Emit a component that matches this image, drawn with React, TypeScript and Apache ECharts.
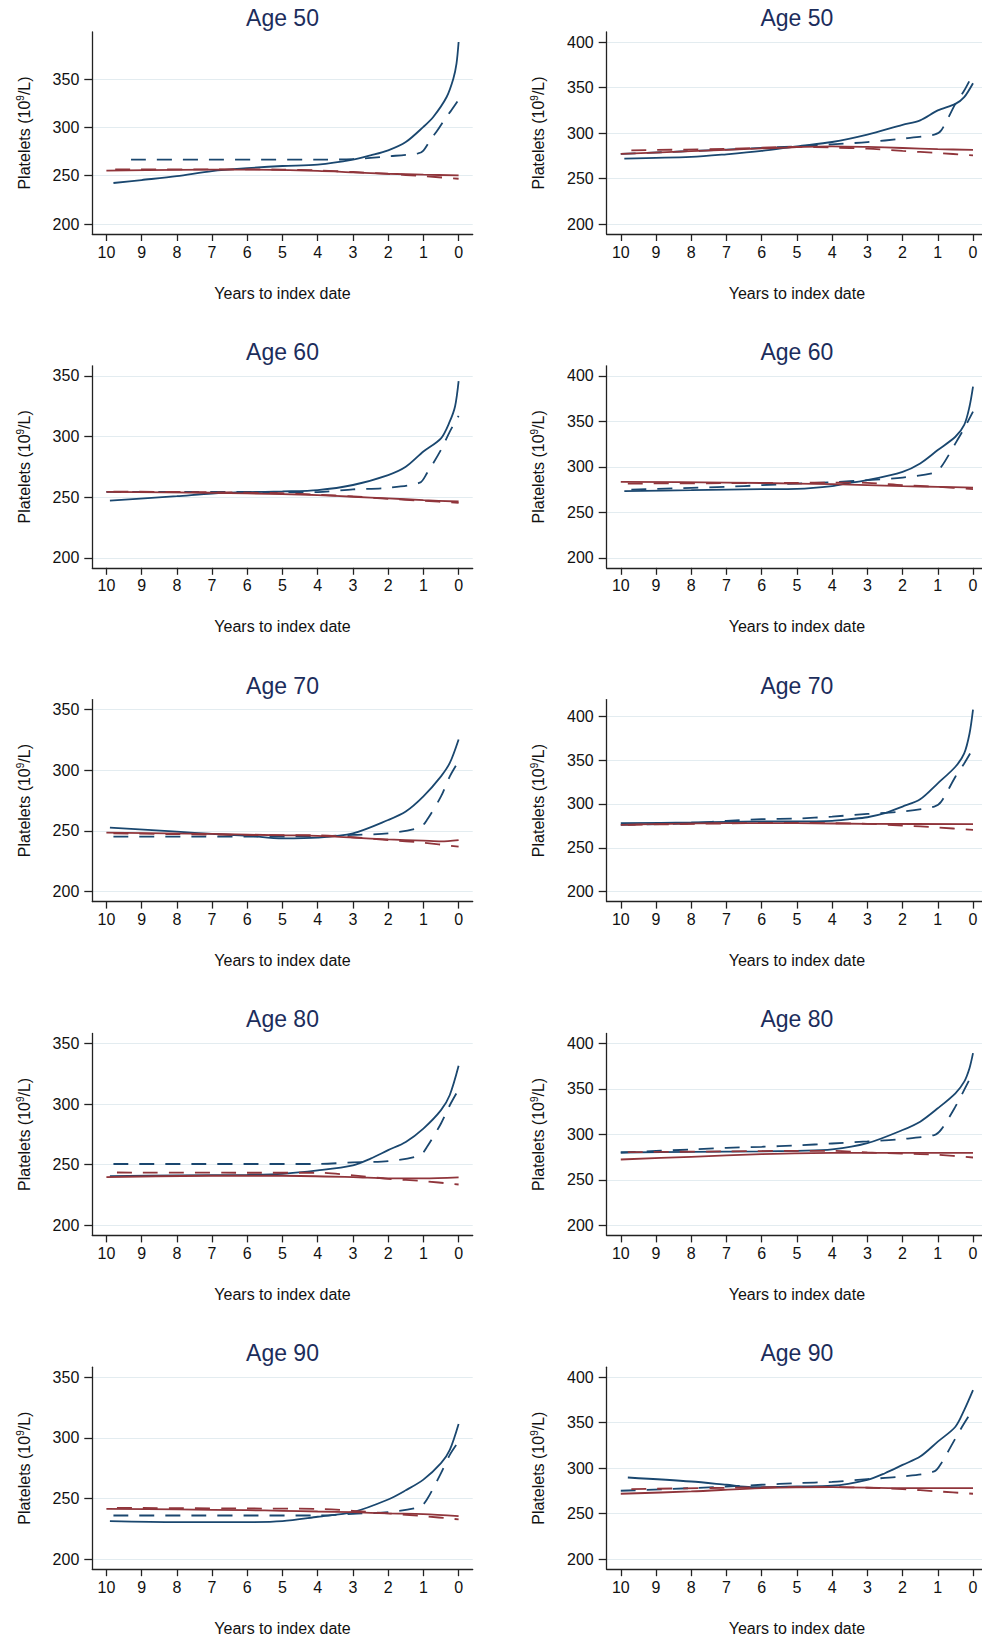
import React, { useEffect, useRef } from "react";
import * as echarts from "echarts";

// ---------- tick labels ----------
const X_TICKS = [10, 9, 8, 7, 6, 5, 4, 3, 2, 1, 0];
const Y_TICKS_LEFT = [200, 250, 300, 350];
const Y_TICKS_RIGHT = [200, 250, 300, 350, 400];
const AGES = [50, 60, 70, 80, 90];
const SERIES_NAMES = ["Cases (model 1)", "Cases (model 2)", "Controls (model 1)", "Controls (model 2)"];

// ---------- data: [years to index date, platelets] ----------
// Age 50, left
const a50L_caseSolid = [[9.8, 242.4], [9, 245.5], [8, 249.5], [7, 254.8], [6, 257.8], [5, 260], [4, 261.4], [3, 266.5], [2.5, 271], [2, 276.2], [1.5, 284.8], [1, 300.5], [0.72, 310.7], [0.34, 331.4], [0.15, 350.3], [0.06, 365.9], [0, 388.3]];
const a50L_caseDashed = [[9.3, 266.5], [4, 266.5], [3, 267.2], [2, 270], [1.15, 273], [1, 276], [0.8, 287], [0.6, 297], [0.4, 308], [0.2, 318], [0, 328.6]];
const a50L_ctrlSolid = [[10, 255.2], [8, 256], [6, 256.2], [4, 255], [3, 253.5], [2, 252], [1, 251], [0, 250.3]];
const a50L_ctrlDashed = [[9.75, 256.5], [7, 256.5], [5, 256.3], [4, 255.5], [3, 253.8], [2, 251.8], [1, 249.5], [0, 246.8]];
// Age 50, right
const a50R_caseSolid = [[9.9, 271.9], [8, 273.7], [7, 276.6], [6, 280.3], [5, 285.4], [4, 290.1], [3, 298.2], [2, 309], [1.5, 313.9], [1, 324.8], [0.5, 332], [0.25, 339.4], [0, 354.7]];
const a50R_caseDashed = [[10, 277], [7, 281.8], [5, 285.4], [4, 287.6], [3, 290], [2, 293.8], [1.1, 298.2], [0.9, 303], [0.5, 332], [0.25, 346.7], [0, 365]];
const a50R_ctrlSolid = [[10, 277], [8, 280], [6, 283], [4, 285.4], [3, 284.7], [2, 283.5], [1, 282.3], [0, 281.4]];
const a50R_ctrlDashed = [[9.7, 281], [7, 282.5], [5, 284.7], [4, 284], [3, 282.8], [2, 280.3], [1, 278], [0, 275.5]];
// Age 60, left
const a60L_caseSolid = [[9.9, 247.2], [8, 250.8], [7, 253], [6, 254.1], [5, 254.7], [4, 255.8], [3, 260], [2, 268.2], [1.5, 275], [1, 287.6], [0.5, 298.5], [0.25, 312.4], [0.1, 324.9], [0, 345.6]];
const a60L_caseDashed = [[10, 254.4], [4, 254.2], [3, 256.4], [2, 257.7], [1.1, 261.9], [0.9, 269.6], [0.5, 289], [0.25, 304], [0, 317]];
const a60L_ctrlSolid = [[10, 254.4], [7, 253.6], [5, 252.5], [4, 251.7], [3, 250.3], [2, 249], [1, 247.5], [0, 246.4]];
const a60L_ctrlDashed = [[9.8, 254.6], [7, 254], [5, 253.2], [4, 252], [3, 250.6], [2, 248.6], [1, 247], [0, 245.3]];
// Age 60, right
const a60R_caseSolid = [[9.9, 273.2], [8, 274.3], [7, 275], [6, 275.4], [5, 275.7], [4, 278.7], [3.5, 282.4], [3, 285.3], [2, 294.5], [1.5, 303.7], [1, 318.4], [0.5, 333], [0.25, 346], [0.1, 366], [0, 388]];
const a60R_caseDashed = [[9.7, 275], [8, 276.8], [7, 278], [6, 279.8], [5, 281.6], [4, 283.1], [3, 285.3], [2, 288.2], [1.1, 293.4], [0.9, 300], [0.5, 325.7], [0.25, 342.3], [0, 360.7]];
const a60R_ctrlSolid = [[10, 283.5], [7, 282.7], [5, 281.6], [4, 281], [3, 279.8], [2, 278.7], [1, 278], [0, 277.2]];
const a60R_ctrlDashed = [[9.8, 281.6], [7, 282], [5, 282.4], [4, 282.7], [3, 282.4], [2, 279.8], [1, 278], [0, 275.4]];
// Age 70, left
const a70L_caseSolid = [[9.9, 252.8], [8, 249.4], [7, 247.5], [6, 246.1], [5, 243.9], [4, 244.5], [3, 248], [2, 259], [1.5, 266], [1, 278.5], [0.5, 295], [0.25, 306], [0, 325.4]];
const a70L_caseDashed = [[9.8, 245.3], [4, 245.5], [3, 246.7], [2, 248], [1.1, 252.8], [0.9, 259], [0.5, 278.5], [0.25, 295], [0, 307.5]];
const a70L_ctrlSolid = [[10, 248.6], [7, 247.5], [5, 246.4], [4, 245.9], [3, 244.5], [2, 243], [1, 242], [0.5, 241.4], [0, 242.5]];
const a70L_ctrlDashed = [[9.8, 248], [6, 246.7], [4, 246.4], [3, 244.8], [2, 242.5], [1, 240.3], [0, 237]];
// Age 70, right
const a70R_caseSolid = [[10, 278], [8, 278.8], [7, 279.5], [6, 280], [5, 280], [4, 280.7], [3.5, 282.6], [3, 284.8], [2.5, 289.4], [2, 297], [1.5, 305.3], [1, 323.5], [0.5, 342.4], [0.25, 357.6], [0.1, 380], [0, 407.6]];
const a70R_caseDashed = [[10, 276.1], [8, 278], [7, 280.7], [6, 282.6], [5, 283.3], [4, 285.6], [3, 288.6], [2, 291.3], [1.1, 297], [0.9, 302.7], [0.5, 331], [0.25, 346.2], [0, 363.3]];
const a70R_ctrlSolid = [[10, 276.1], [7, 278], [5, 278], [3, 277.3], [0, 276.9]];
const a70R_ctrlDashed = [[9.8, 276.1], [5, 278.4], [4, 278], [3, 277.3], [2, 275.4], [1, 273.1], [0, 270.5]];
// Age 80, left
const a80L_caseSolid = [[9.9, 240.6], [8, 241.2], [6, 241.7], [5, 242.5], [4, 245.3], [3, 249.5], [2.5, 255], [2, 262], [1.5, 268.8], [1, 279.8], [0.5, 295], [0.25, 307.5], [0, 331.5]];
const a80L_caseDashed = [[9.8, 250.6], [4, 250.6], [3, 252], [2, 253], [1.1, 257.7], [0.9, 264.6], [0.5, 284], [0.25, 299], [0, 312]];
const a80L_ctrlSolid = [[10, 239.8], [7, 240.9], [5, 240.9], [3, 239.8], [2, 238.7], [1, 238.7], [0, 239.5]];
const a80L_ctrlDashed = [[9.7, 243.6], [6, 243.4], [4, 243.4], [3, 241.2], [2, 238.4], [1, 236.5], [0, 233.7]];
// Age 80, right
const a80R_caseSolid = [[10, 280.1], [8, 280.9], [6, 281.3], [5, 282], [4, 283.5], [3, 290.3], [2, 304.8], [1.5, 314], [1, 328.7], [0.5, 345.2], [0.25, 358], [0.1, 372.8], [0, 389.3]];
const a80R_caseDashed = [[10, 280.1], [8, 283.5], [7, 285.3], [6, 286.4], [5, 287.9], [4, 290], [3, 292.3], [2, 294.9], [1.1, 299.3], [0.9, 305.5], [0.5, 330.5], [0.25, 348.9], [0, 368]];
const a80R_ctrlSolid = [[10, 272.4], [8, 275.4], [6, 278.3], [4, 279.8], [2, 279.8], [0, 279.8]];
const a80R_ctrlDashed = [[9.8, 280.5], [7, 281.3], [5, 282], [4, 282], [3, 280.1], [2, 279], [1, 277.6], [0, 274.6]];
// Age 90, left
const a90L_caseSolid = [[9.9, 231.4], [8, 230.6], [6, 230.6], [5, 231.4], [4, 235], [3, 238.8], [2, 249.2], [1.5, 256.8], [1, 265.6], [0.5, 279.2], [0.25, 290.2], [0, 311.5]];
const a90L_caseDashed = [[9.8, 236], [4, 236], [3, 237.4], [2, 238.8], [1.1, 243.2], [0.9, 249.2], [0.5, 271], [0.25, 286], [0, 297]];
const a90L_ctrlSolid = [[10, 241.5], [8, 241], [6, 240.4], [5, 239.9], [4, 239.3], [3, 238.8], [2, 237.7], [1, 237.2], [0, 235.5]];
const a90L_ctrlDashed = [[9.7, 242.3], [6, 241.8], [4, 241.5], [3, 239.9], [2, 237.7], [1, 235.5], [0, 232.8]];
// Age 90, right
const a90R_caseSolid = [[9.8, 289.8], [8, 285.4], [7, 281.8], [6.3, 279.2], [5, 279.9], [4, 280.7], [3, 287.2], [2.5, 294.5], [2, 303.6], [1.5, 312.8], [1, 329.2], [0.5, 345.6], [0.25, 363.9], [0, 385.8]];
const a90R_caseDashed = [[10, 275.2], [8, 278.1], [7, 279.9], [6, 281.8], [5, 283.6], [4, 285], [3, 288], [2, 290.9], [1.1, 296.4], [0.9, 305.5], [0.5, 332.8], [0.25, 349.3], [0, 364.6]];
const a90R_ctrlSolid = [[10, 271.9], [8, 274.5], [6, 278.1], [4, 279.2], [2, 278.1], [0, 278.1]];
const a90R_ctrlDashed = [[9.7, 277], [7, 278.5], [5, 279.2], [4, 279.2], [3, 278.5], [2, 277], [1, 274.5], [0, 271.9]];

const LEFT_PANELS = [
  [a50L_caseSolid, a50L_caseDashed, a50L_ctrlSolid, a50L_ctrlDashed],
  [a60L_caseSolid, a60L_caseDashed, a60L_ctrlSolid, a60L_ctrlDashed],
  [a70L_caseSolid, a70L_caseDashed, a70L_ctrlSolid, a70L_ctrlDashed],
  [a80L_caseSolid, a80L_caseDashed, a80L_ctrlSolid, a80L_ctrlDashed],
  [a90L_caseSolid, a90L_caseDashed, a90L_ctrlSolid, a90L_ctrlDashed],
];
const RIGHT_PANELS = [
  [a50R_caseSolid, a50R_caseDashed, a50R_ctrlSolid, a50R_ctrlDashed],
  [a60R_caseSolid, a60R_caseDashed, a60R_ctrlSolid, a60R_ctrlDashed],
  [a70R_caseSolid, a70R_caseDashed, a70R_ctrlSolid, a70R_ctrlDashed],
  [a80R_caseSolid, a80R_caseDashed, a80R_ctrlSolid, a80R_ctrlDashed],
  [a90R_caseSolid, a90R_caseDashed, a90R_ctrlSolid, a90R_ctrlDashed],
];

// ---------- layout & style ----------
const W = 982;
const H = 1638;
const ROW_TOP = 32;
const ROW_STEP = 333.8;
const PLOT_H = 202;
const PLOT_W = 380.4; // full plot width (right column is cut by the page edge)
const COL_LEFT = [92.3, 606.7];
const X_PAD = 0.4; // years of padding at each end of the x axis
const FONT = '"Liberation Sans", Arial, Helvetica, sans-serif';
const BLUE = "#1a476f";
const RED = "#90353b";
const TITLE_COLOR = "#1c2d5c";
const AXIS_COLOR = "#222222";
const GRID_COLOR = "#e3ecf0";
const LINE_STYLES = [
  { color: BLUE, type: "solid" },
  { color: BLUE, type: [15, 11] },
  { color: RED, type: "solid" },
  { color: RED, type: [15, 11] },
];

function yRange(ticks: number[], lines: number[][][]) {
  let dataMax = -Infinity;
  lines.forEach((l) => l.forEach((p) => (dataMax = Math.max(dataMax, p[1]))));
  const lo = ticks[0];
  const hi = Math.max(ticks[ticks.length - 1], dataMax);
  const pad = ((hi - lo) * 10) / 182;
  return [lo - pad, hi + pad];
}

function buildOption() {
  const grids: any[] = [];
  const xAxes: any[] = [];
  const yAxes: any[] = [];
  const series: any[] = [];
  const graphics: any[] = [];
  const pxPerYear = PLOT_W / (10 + 2 * X_PAD);
  let idx = 0;
  for (let r = 0; r < AGES.length; r++) {
    for (let c = 0; c < 2; c++) {
      const lines = c === 0 ? LEFT_PANELS[r] : RIGHT_PANELS[r];
      const ticks = c === 0 ? Y_TICKS_LEFT : Y_TICKS_RIGHT;
      const [ymin, ymax] = yRange(ticks, lines);
      const left = COL_LEFT[c];
      const top = ROW_TOP + r * ROW_STEP;
      const visW = Math.min(PLOT_W, W - left);
      const cut = PLOT_W - visW;
      const xMinVal = -X_PAD + cut / pxPerYear;
      grids.push({ left, top, width: visW, height: PLOT_H });
      xAxes.push({
        type: "value",
        gridIndex: idx,
        inverse: true,
        min: xMinVal,
        max: 10 + X_PAD,
        name: "Years to index date",
        nameLocation: "middle",
        nameGap: 51,
        nameTextStyle: { fontFamily: FONT, fontSize: 16, color: "#111", padding: [0, 0, 0, cut] },
        axisLine: { show: true, onZero: false, lineStyle: { color: AXIS_COLOR, width: 1.3 } },
        axisTick: { show: true, length: 7, customValues: X_TICKS, lineStyle: { color: AXIS_COLOR, width: 1.3 } },
        axisLabel: { customValues: X_TICKS, fontFamily: FONT, fontSize: 16, color: "#111", margin: 10 },
        splitLine: { show: false },
      });
      yAxes.push({
        type: "value",
        gridIndex: idx,
        min: ymin,
        max: ymax,
        name: "{a|Platelets (10}{b|9}{a|/L)}",
        nameLocation: "middle",
        nameGap: 59,
        nameTextStyle: {
          fontFamily: FONT,
          fontSize: 16,
          color: "#111",
          rich: {
            a: { fontFamily: FONT, fontSize: 16, color: "#111", lineHeight: 18 },
            b: { fontFamily: FONT, fontSize: 10, color: "#111", verticalAlign: "top", lineHeight: 18 },
          },
        },
        axisLine: { show: true, onZero: false, lineStyle: { color: AXIS_COLOR, width: 1.3 } },
        axisTick: { show: true, length: 8, customValues: ticks, lineStyle: { color: AXIS_COLOR, width: 1.3 } },
        axisLabel: { customValues: ticks, fontFamily: FONT, fontSize: 16, color: "#111", margin: 13 },
        splitLine: { show: true, lineStyle: { color: GRID_COLOR, width: 1.2 } },
      });
      lines.forEach((data, k) => {
        series.push({
          type: "line",
          name: SERIES_NAMES[k],
          xAxisIndex: idx,
          yAxisIndex: idx,
          data,
          symbol: "none",
          showSymbol: false,
          smooth: 0.3,
          lineStyle: { color: LINE_STYLES[k].color, width: 1.8, type: LINE_STYLES[k].type },
          z: 3,
        });
      });
      graphics.push({
        type: "text",
        x: left + PLOT_W / 2,
        y: top - 14,
        style: {
          text: "Age " + AGES[r],
          fontFamily: FONT,
          fontSize: 23,
          fill: TITLE_COLOR,
          align: "center",
          textAlign: "center",
          verticalAlign: "middle",
          textVerticalAlign: "middle",
        },
      });
      idx++;
    }
  }
  return {
    animation: false,
    backgroundColor: "#ffffff",
    grid: grids,
    xAxis: xAxes,
    yAxis: yAxes,
    series,
    graphic: { elements: graphics },
  };
}

export default function App() {
  const ref = useRef<HTMLDivElement>(null);
  useEffect(() => {
    document.body.style.margin = "0";
    if (!ref.current) return;
    const chart = echarts.init(ref.current, null, { renderer: "svg" });
    chart.setOption(buildOption() as any);
    return () => chart.dispose();
  }, []);
  return <div ref={ref} style={{ width: W, height: H, background: "#fff" }} />;
}
